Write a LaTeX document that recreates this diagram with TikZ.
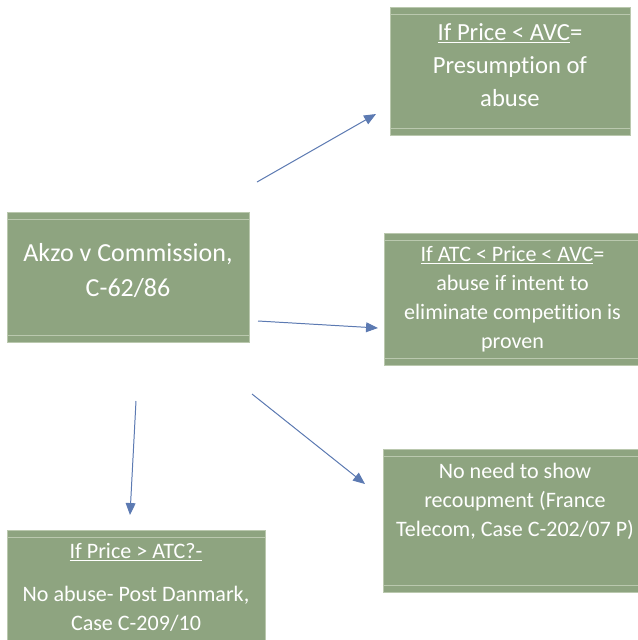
\documentclass[tikz,border=0pt]{standalone}
\usepackage{fontspec}
\setmainfont[Ligatures=CommonOff]{Carlito}
\usetikzlibrary{arrows.meta,positioning}
\definecolor{sage}{RGB}{142,164,128}
\definecolor{sageline}{RGB}{186,200,174}
\definecolor{arrowblue}{RGB}{92,122,178}

\begin{document}
\begin{tikzpicture}[x=0.025cm, y=-0.025cm,
  box/.style={draw=sageline, line width=0.6pt, fill=sage,
              text=white, align=center, inner sep=0pt,
              path picture={
                \draw[sageline, line width=0.6pt]
                  ([yshift=-5pt]path picture bounding box.north west) --
                  ([yshift=-5pt]path picture bounding box.north east)
                  ([yshift=5pt]path picture bounding box.south west) --
                  ([yshift=5pt]path picture bounding box.south east);}},
  txt/.style={text=white, align=center, inner sep=0pt,
              font=\fontsize{15.7}{20.6}\selectfont},
  arr/.style={-{Triangle[length=8.5pt,width=7pt]}, draw=arrowblue,
              fill=arrowblue, line width=0.7pt}
]
\useasboundingbox (0,0) rectangle (638,640);

%% Main case box on the left
\node[box, minimum width=6.05cm, minimum height=3.25cm] (akzo) at (128,277) {};
\node[txt, font=\fontsize{18.5}{25}\selectfont, yshift=4.5pt] (akzotext) at (akzo)
  {Akzo v Commission,\\C-62/86};

%% Outcome boxes
\node[box, minimum width=6cm, minimum height=3.2cm] (belowavc) at (510,71) {};
\node[txt, font=\fontsize{17.5}{23.5}\selectfont, yshift=4.5pt] (belowavctext) at (belowavc)
  {\underline{If Price < AVC}=\\Presumption of\\abuse};
\node[box, minimum width=6.425cm, minimum height=3.3cm,
      font=\fontsize{15.7}{20.6}\selectfont] (between) at (512.5,299)
  {\underline{If ATC < Price < AVC}=\\abuse if intent to\\eliminate competition is\\proven};
\node[box, minimum width=6.6cm, minimum height=3.575cm] (recoup) at (515,520.5) {};
\node[txt, below=10pt of recoup.north] (recouptext)
  {No need to show\\recoupment (France\\Telecom, Case C-202/07 P)};
\node[box, minimum width=6.45cm, minimum height=3.25cm] (aboveatc) at (136,595) {};
\node[txt, below=9.5pt of aboveatc.north] (aboveatctext)
  {\underline{If Price > ATC?-}\\[10pt]No abuse- Post Danmark,\\Case C-209/10};

%% Free arrow ends
\coordinate (upstart)   at (257,182);
\coordinate (upend)     at (376,114);
\coordinate (midstart)  at (258,321);
\coordinate (midend)    at (378,328);
\coordinate (lowstart)  at (252,394);
\coordinate (lowend)    at (365,484);
\coordinate (downstart) at (136,401);
\coordinate (downend)   at (130,515);

%% Arrows
\draw[arr] (upstart) -- (upend);
\draw[arr] (midstart) -- (midend);
\draw[arr] (lowstart) -- (lowend);
\draw[arr] (downstart) -- (downend);
\end{tikzpicture}
\end{document}
